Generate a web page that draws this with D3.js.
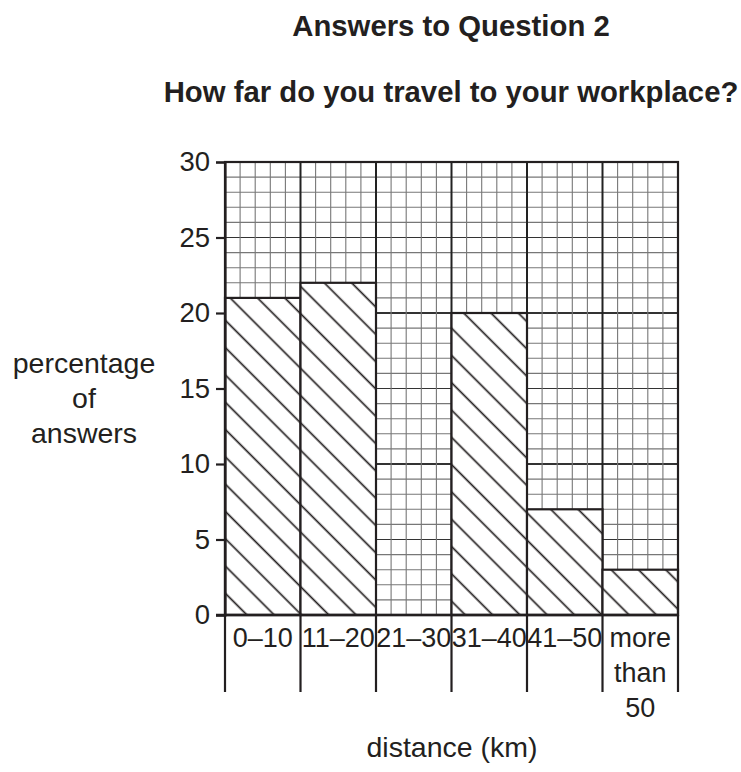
<!DOCTYPE html>
<meta charset="utf-8">
<html lang="en">
<head>
    <title>Answers to Question 2</title>
    <script src="https://d3js.org/d3.v7.min.js"></script>
    <style>
        body { margin: 0; background: #fff; }
        text { font-family: "Liberation Sans", Arial, sans-serif; fill: #231f20; }
    </style>
</head>
<body>
<div id="my_dataviz"></div>
<script>

    // categories and values
    var categories = ["0–10", "11–20", "21–30", "31–40", "41–50", "more than 50"];
    var labelLines = [["0–10"], ["11–20"], ["21–30"], ["31–40"], ["41–50"], ["more", "than", "50"]];
    var percentages = [21, 22, 0, 20, 7, 3];
    var yTicks = [0, 5, 10, 15, 20, 25, 30];

    var ink = "#231f20";

    var svg = d3.select("#my_dataviz")
        .append("svg")
            .attr("width", 741)
            .attr("height", 772);

    // scales
    var x = d3.scaleBand()
        .domain(categories)
        .range([225, 678])
        .padding(0);

    var y = d3.scaleLinear()
        .domain([0, 30])
        .range([615, 162]);

    var lineBottom = 692;

    // hatch pattern (lines going down to the right)
    var spacing = 27.3 / Math.SQRT2;
    var off = ((247 - y(0)) / Math.SQRT2) % spacing;
    if (off < 0) off += spacing;
    var pat = svg.append("defs").append("pattern")
        .attr("id", "hatch")
        .attr("patternUnits", "userSpaceOnUse")
        .attr("width", spacing)
        .attr("height", 40)
        .attr("patternTransform", "rotate(-45)");
    pat.append("rect")
        .attr("width", spacing).attr("height", 40)
        .attr("fill", "#fff");
    pat.append("line")
        .attr("x1", off).attr("x2", off)
        .attr("y1", 0).attr("y2", 40)
        .attr("stroke", ink)
        .attr("stroke-width", 1.7);

    // graph paper grid
    var grid = svg.append("g");
    var minorY = d3.range(0, 31, 1);
    grid.selectAll("line.h")
        .data(minorY)
        .enter()
        .append("line")
        .attr("x1", x.range()[0])
        .attr("x2", x.range()[1])
        .attr("y1", function (d) { return y(d); })
        .attr("y2", function (d) { return y(d); })
        .attr("stroke", function (d) { return d % 5 === 0 ? "#333" : "#777"; })
        .attr("stroke-width", function (d) { return d % 10 === 0 ? 2 : 1.1; });

    var colW = x.bandwidth() / 5;
    var minorX = d3.range(0, 31, 1);
    grid.selectAll("line.v")
        .data(minorX)
        .enter()
        .append("line")
        .attr("x1", function (d) { return x.range()[0] + d * colW; })
        .attr("x2", function (d) { return x.range()[0] + d * colW; })
        .attr("y1", y(30))
        .attr("y2", y(0))
        .attr("stroke", function (d) { return d % 5 === 0 ? "#222" : "#777"; })
        .attr("stroke-width", function (d) { return d % 5 === 0 ? 2 : 1.1; });

    // bars (the 21–30 bar has value 0, so nothing is drawn there)
    svg.append("g")
        .selectAll("rect")
        .data(categories.filter(function (c, i) { return percentages[i] > 0; }))
        .enter()
        .append("rect")
        .attr("x", function (d) { return x(d); })
        .attr("y", function (d) { return y(percentages[categories.indexOf(d)]); })
        .attr("width", x.bandwidth())
        .attr("height", function (d) { return y(0) - y(percentages[categories.indexOf(d)]); })
        .attr("fill", "url(#hatch)")
        .attr("stroke", ink)
        .attr("stroke-width", 2.2);

    // column dividers running below the axis
    svg.append("g")
        .selectAll("line")
        .data(d3.range(0, 7))
        .enter()
        .append("line")
        .attr("x1", function (d) { return x.range()[0] + d * x.bandwidth(); })
        .attr("x2", function (d) { return x.range()[0] + d * x.bandwidth(); })
        .attr("y1", y(0))
        .attr("y2", lineBottom)
        .attr("stroke", ink)
        .attr("stroke-width", 2.2);

    // outer frame of the grid
    svg.append("rect")
        .attr("x", x.range()[0])
        .attr("y", y(30))
        .attr("width", x.range()[1] - x.range()[0])
        .attr("height", y(0) - y(30))
        .attr("fill", "none")
        .attr("stroke", ink)
        .attr("stroke-width", 2.2);

    // y axis
    var yAxis = svg.append("g")
        .attr("transform", "translate(" + x.range()[0] + ",0)")
        .call(d3.axisLeft(y).tickValues(yTicks).tickSize(9).tickPadding(6));
    yAxis.select(".domain").attr("stroke", ink).attr("stroke-width", 2.2);
    yAxis.selectAll(".tick line").attr("stroke", ink).attr("stroke-width", 2.2);
    yAxis.selectAll(".tick text")
        .attr("font-size", "27.5px")
        .attr("font-family", "Liberation Sans, Arial, sans-serif")
        .attr("fill", ink);

    // x axis line
    svg.append("line")
        .attr("x1", x.range()[0] - 9)
        .attr("x2", x.range()[1])
        .attr("y1", y(0))
        .attr("y2", y(0))
        .attr("stroke", ink)
        .attr("stroke-width", 2.4);

    // category labels
    var xl = svg.append("g")
        .selectAll("text")
        .data(categories)
        .enter()
        .append("text")
        .attr("x", function (d) { return x(d) + x.bandwidth() / 2; })
        .attr("y", 647)
        .attr("text-anchor", "middle")
        .attr("font-size", "27px");
    xl.selectAll("tspan")
        .data(function (d, i) { return labelLines[i]; })
        .enter()
        .append("tspan")
        .attr("x", function () { return this.parentNode.getAttribute("x"); })
        .attr("dy", function (d, i) { return i === 0 ? 0 : 35; })
        .text(function (d) { return d; });

    // titles
    svg.append("text")
        .attr("x", 451)
        .attr("y", 36)
        .attr("text-anchor", "middle")
        .attr("font-size", "29.3px")
        .attr("font-weight", "bold")
        .text("Answers to Question 2");

    svg.append("text")
        .attr("x", 451)
        .attr("y", 102)
        .attr("text-anchor", "middle")
        .attr("font-size", "29.3px")
        .attr("font-weight", "bold")
        .text("How far do you travel to your workplace?");

    // y axis label
    var yl = svg.append("text")
        .attr("x", 84)
        .attr("y", 373)
        .attr("text-anchor", "middle")
        .attr("font-size", "28.5px");
    ["percentage", "of", "answers"].forEach(function (t, i) {
        yl.append("tspan")
            .attr("x", 84)
            .attr("dy", i === 0 ? 0 : 35)
            .text(t);
    });

    // x axis label
    svg.append("text")
        .attr("x", 452)
        .attr("y", 757)
        .attr("text-anchor", "middle")
        .attr("font-size", "28.5px")
        .text("distance (km)");

</script>
</body>
</html>
